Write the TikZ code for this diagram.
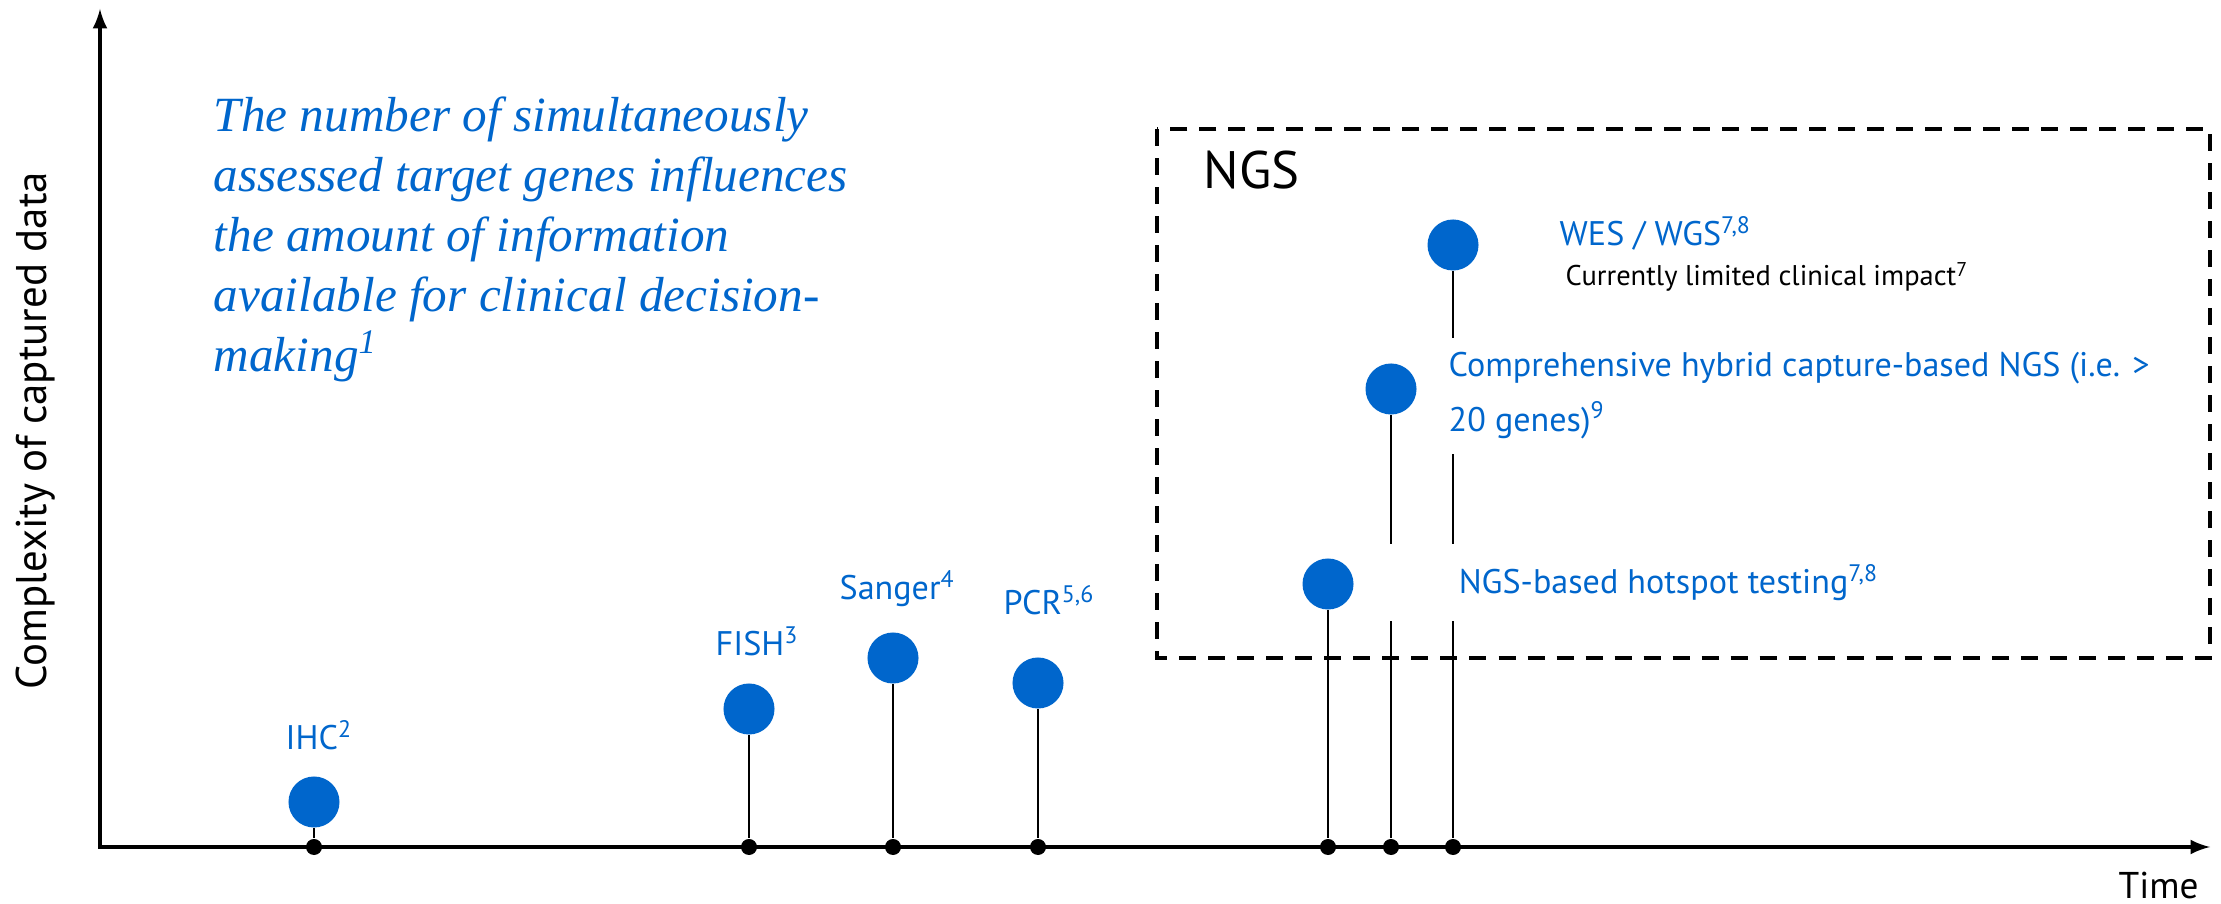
\documentclass[tikz,border=0pt]{standalone}
\usepackage{fontspec}
\setmainfont{Liberation Serif}
\newfontfamily\hand{PT Sans}
\usetikzlibrary{positioning}
\definecolor{testblue}{RGB}{0,102,204}

\begin{document}
\begin{tikzpicture}[x=0.01cm,y=-0.01cm,
  techdot/.style={circle,fill=testblue,inner sep=0pt,minimum size=0.51cm},
  axisdot/.style={circle,fill=black,inner sep=0pt,minimum size=0.16cm},
  stemline/.style={line width=0.6pt},
  axisline/.style={line width=0.9pt},
  techlabel/.style={text=testblue,font=\hand\fontsize{9.7}{15.4}\selectfont,inner sep=0pt,anchor=base west},
  whitegap/.style={fill=white}]
\useasboundingbox (0,0) rectangle (2221,904);
\draw [dash pattern=on 0.17cm off 0.12cm,line width=0.95pt] (1157,129) rectangle (2210,658);
\node [anchor=base west,inner sep=0pt,font=\hand\fontsize{15}{18}\selectfont] (ngs) at (1203,189) {NGS};
\coordinate (origin) at (100,847);
\coordinate (ytop) at (100,9);
\coordinate (xend) at (2210,847);
\draw [axisline,latex-latex] (ytop) -- (origin) -- (xend);
\foreach \name/\x/\y in {ihc/314/802,fish/749/709,sanger/893/658,pcr/1038/683,hot/1328/584,comp/1391/389,wes/1453/245}{
  \node [axisdot] (\name t) at (\x,847) {};
  \node [techdot] (\name) at (\x,\y) {};
  \draw [stemline] (\name) -- (\name t);
}
\node [techlabel] (ihcl) at (285,750) {IHC\textsuperscript{2}};
\node [techlabel] (fishl) at (715,656) {FISH\textsuperscript{3}};
\node [techlabel] (sangerl) at (839,600) {Sanger\textsuperscript{4}};
\node [techlabel] (pcrl) at (1003,615) {PCR\textsuperscript{5,6}};
\node [techlabel,whitegap,inner xsep=0.88cm,inner ysep=0.2cm] (hotl) at (1370,594) {NGS-based hotspot testing\textsuperscript{7,8}};
\node [techlabel,whitegap,anchor=north west,align=left,inner xsep=0.18cm,inner ysep=0.15cm] (compl) at (1430,337) {Comprehensive hybrid capture-based NGS (i.e. >\\20 genes)\textsuperscript{9}};
\node [techlabel] (wesl) at (1559,246) {WES / WGS\textsuperscript{7,8}};
\node [techlabel,text=black,font=\hand\fontsize{8.1}{9}\selectfont] (wesnote) at (1565,286) {Currently limited clinical impact\textsuperscript{7}};
\node [anchor=base west,inner sep=0pt,font=\hand\fontsize{10.6}{12}\selectfont] (time) at (2118,899) {Time};
\node [anchor=base west,inner sep=0pt,rotate=90,font=\hand\fontsize{12.2}{14}\selectfont] (ylabel) at (47,690) {Complexity of captured data};
\node [anchor=north west,inner sep=0pt,align=left,text=testblue,font=\itshape\fontsize{14}{17.1}\selectfont] (note) at (213,96) {The number of simultaneously\\assessed target genes influences\\the amount of information\\available for clinical decision-\\making\textsuperscript{1}};
\end{tikzpicture}
\end{document}
